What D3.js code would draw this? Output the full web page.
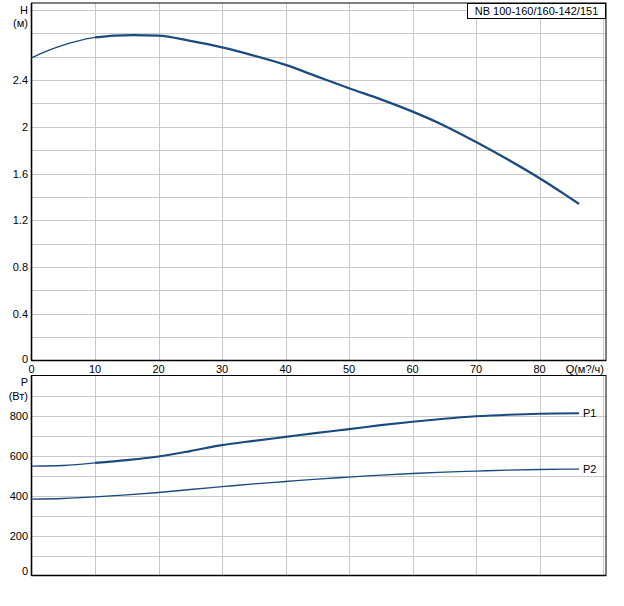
<!DOCTYPE html>
<html><head><meta charset="utf-8">
<script src="https://cdn.jsdelivr.net/npm/d3@7"></script>
<style>body{margin:0;background:#fff}svg{display:block}text{font-family:"Liberation Sans",Arial,sans-serif;font-size:11px;fill:#000}</style>
</head><body><svg id="c" width="624" height="606"></svg>
<script>
const title = "NB 100-160/160-142/151";
const qH = [0,2,5,8,10,13,16,20,25,30,35,40,45,50,55,60,65,70,75,80,84,86.2];
const hVals = [2.59,2.64,2.70,2.745,2.765,2.78,2.785,2.78,2.735,2.68,2.61,2.53,2.43,2.33,2.235,2.13,2.01,1.87,1.72,1.56,1.42,1.34];
const qP = [0,5,10,15,20,25,30,35,40,45,50,55,60,65,70,75,80,86.2];
const p1Vals = [547,550,563,577,595,622,652,673,693,713,732,752,769,784,796,804,809,811];
const p2Vals = [382,385,393,403,415,430,444,458,470,482,492,502,510,517,522,527,530,532];
const xTicks = [0,10,20,30,40,50,60,70,80];
const hTicks = [0,0.4,0.8,1.2,1.6,2,2.4];
const pTicks = [0,200,400,600,800];

const svg = d3.select("#c");
const col = "#1b4b7e", grid = "#c9c9c9";
const x = d3.scaleLinear().domain([0,90.45]).range([31.5,606]);
const yH = d3.scaleLinear().domain([0,3.06]).range([360.5,3]);
const yP = d3.scaleLinear().domain([0,1000]).range([575.5,375.5]);

function panel(y, dom, step){
  const g = svg.append("g");
  for(let q=10;q<=90;q+=10) g.append("line").attr("x1",Math.round(x(q))+0.5).attr("x2",Math.round(x(q))+0.5).attr("y1",y.range()[1]).attr("y2",y.range()[0]).attr("stroke",grid);
  for(let v=step; v<dom; v+=step) g.append("line").attr("x1",x(0)).attr("x2",606).attr("y1",Math.round(y(v))+0.5).attr("y2",Math.round(y(v))+0.5).attr("stroke",grid);
  g.append("rect").attr("x",x(0)).attr("y",y.range()[1]).attr("width",606-x(0)).attr("height",y.range()[0]-y.range()[1]).attr("fill","none").attr("stroke","#000");
  g.append("line").attr("x1",x(0)).attr("x2",x(0)).attr("y1",y.range()[1]).attr("y2",y.range()[0]).attr("stroke","#000").attr("stroke-width",1.6);
  g.append("line").attr("x1",x(0)).attr("x2",606).attr("y1",y.range()[0]).attr("y2",y.range()[0]).attr("stroke","#000").attr("stroke-width",1.6);
}
panel(yH, 3.06, 0.2);
panel(yP, 1000, 100);

hTicks.forEach(t=>svg.append("text").attr("x",28).attr("y",yH(t)+4 - (t===0?2:0)).attr("text-anchor","end").text(t));
pTicks.forEach(t=>svg.append("text").attr("x",28).attr("y",yP(t)+4 - (t===0?5:0)).attr("text-anchor","end").text(t));
svg.append("text").attr("x",28).attr("y",14).attr("text-anchor","end").text("H");
svg.append("text").attr("x",28).attr("y",27).attr("text-anchor","end").text("(м)");
svg.append("text").attr("x",28).attr("y",386).attr("text-anchor","end").text("P");
svg.append("text").attr("x",28).attr("y",400).attr("text-anchor","end").text("(Вт)");
xTicks.forEach(t=>svg.append("text").attr("x",x(t)).attr("y",373).attr("text-anchor","middle").text(t));
svg.append("text").attr("x",604).attr("y",373).attr("text-anchor","end").text("Q(м?/ч)");

svg.append("rect").attr("x",467.5).attr("y",3.5).attr("width",138).attr("height",15).attr("fill","#fff").attr("stroke","#000");
svg.append("text").attr("x",536.5).attr("y",15).attr("text-anchor","middle").text(title);

// curves: thinner at the low-flow start, thicker afterwards
function drawCurve(qs, vals, y, split, w1, w2){
  const pts = qs.map((q,i)=>[x(q), y(vals[i])]);
  const line = d3.line().curve(d3.curveMonotoneX);
  svg.append("path").attr("d",line(pts.slice(0,split+1))).attr("fill","none").attr("stroke",col).attr("stroke-width",w1);
  svg.append("path").attr("d",line(pts.slice(split))).attr("fill","none").attr("stroke",col).attr("stroke-width",w2);
}
drawCurve(qH, hVals, yH, 4, 1.3, 2.3);
drawCurve(qP, p1Vals, yP, 2, 1.3, 2.1);
drawCurve(qP, p2Vals, yP, 2, 1.3, 1.3);
svg.append("text").attr("x",x(qP[qP.length-1])+4).attr("y",yP(p1Vals[p1Vals.length-1])+4).text("P1");
svg.append("text").attr("x",x(qP[qP.length-1])+4).attr("y",yP(p2Vals[p2Vals.length-1])+4).text("P2");
</script></body></html>
